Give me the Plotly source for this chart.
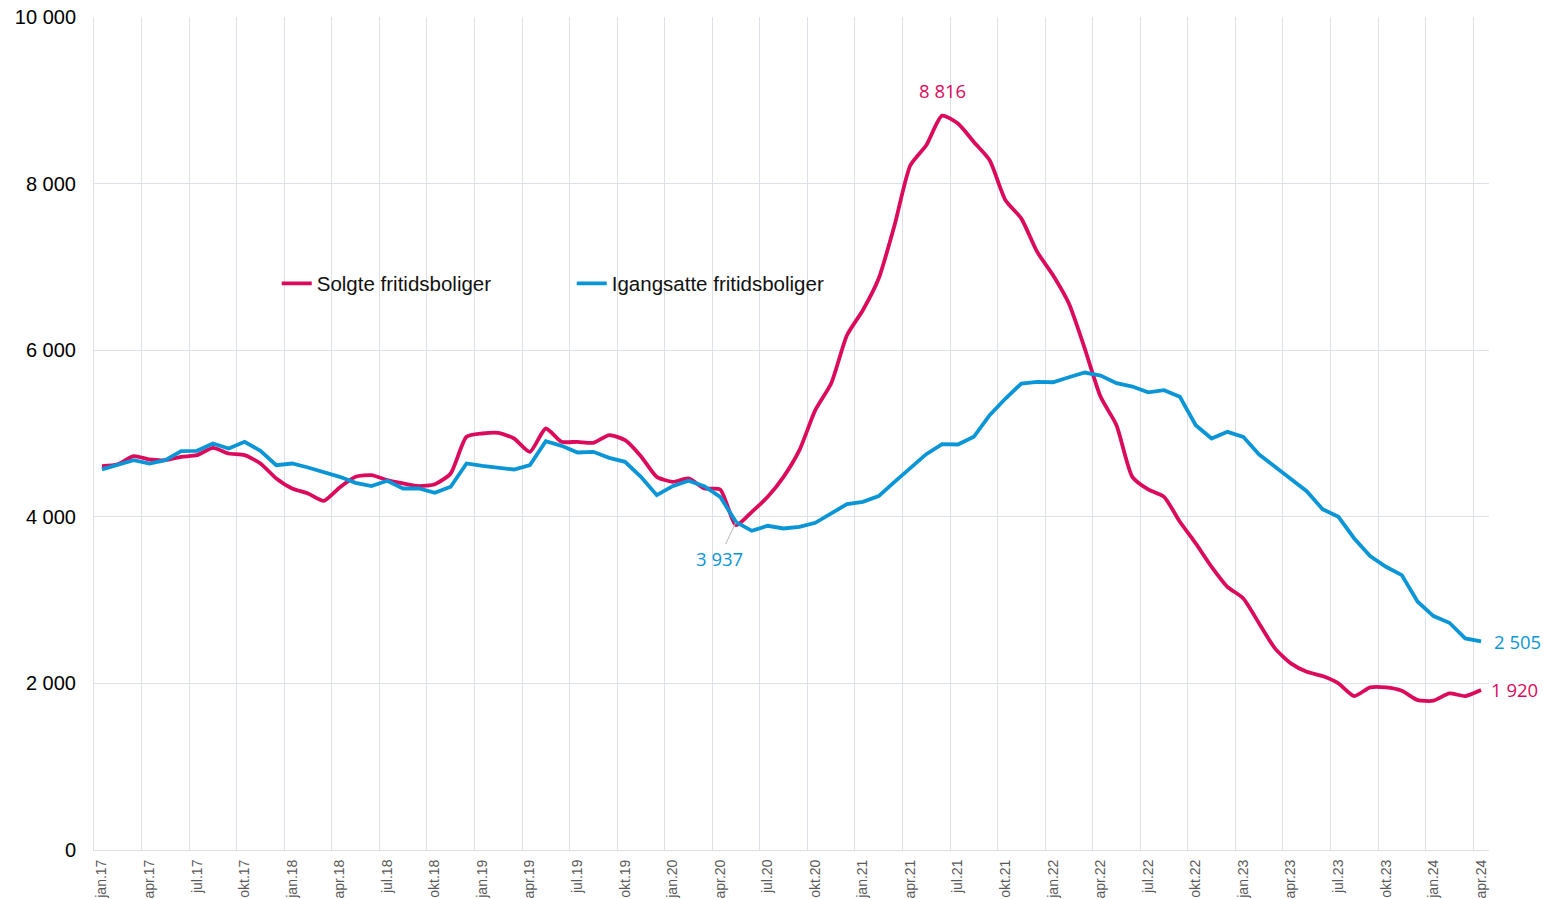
import plotly.graph_objects as go

months = ["jan", "feb", "mar", "apr", "mai", "jun", "jul", "aug", "sep", "okt", "nov", "des"]
categories = [f"{m}.{y:02d}" for y in range(17, 25) for m in months][:88]

solgte = [4608, 4630, 4728, 4688, 4680, 4720, 4740, 4828, 4760, 4740, 4640, 4460,
          4340, 4280, 4192, 4352, 4480, 4500, 4440, 4400, 4368, 4390, 4520, 4960,
          5000, 5008, 4940, 4780, 5060, 4900, 4900, 4888, 4980, 4920, 4728, 4480,
          4420, 4460, 4340, 4328, 3900, 4060, 4240, 4480, 4800, 5280, 5600, 6180,
          6480, 6860, 7500, 8220, 8460, 8816, 8720, 8500, 8280, 7800, 7580, 7180,
          6900, 6560, 6020, 5440, 5100, 4480, 4328, 4240, 3940, 3680, 3400, 3160,
          3020, 2720, 2420, 2240, 2140, 2088, 2000, 1848, 1952, 1952, 1912, 1800,
          1792, 1880, 1848, 1920]

igangsatte = [4570, 4620, 4680, 4640, 4680, 4788, 4792, 4880, 4820, 4900, 4792, 4620,
              4640, 4592, 4540, 4480, 4408, 4368, 4432, 4340, 4340, 4288, 4360, 4640,
              4610, 4592, 4568, 4620, 4908, 4852, 4772, 4780, 4708, 4660, 4480, 4260,
              4368, 4432, 4368, 4240, 3937, 3832, 3892, 3860, 3880, 3928, 4040, 4152,
              4180, 4248, 4420, 4580, 4752, 4872, 4868, 4960, 5220, 5420, 5600, 5620,
              5615, 5675, 5732, 5695, 5604, 5564, 5494, 5520, 5440, 5100, 4940, 5020,
              4960, 4748, 4600, 4448, 4308, 4092, 4000, 3740, 3528, 3400, 3300, 2980,
              2808, 2728, 2540, 2505]

series_names = ["Solgte fritidsboliger", "Igangsatte fritidsboliger"]
RED = "#DB0A5B"
BLUE = "#0A96D6"
GRID = "#DCE1E8"

x = list(range(len(categories)))
tick_idx = list(range(0, len(categories), 3))

fig = go.Figure()
fig.add_trace(go.Scatter(x=x, y=solgte, name=series_names[0], mode="lines",
                         line=dict(color=RED, width=3.8, shape="spline", smoothing=0.6)))
fig.add_trace(go.Scatter(x=x, y=igangsatte, name=series_names[1], mode="lines",
                         line=dict(color=BLUE, width=3.8)))

ann_font = dict(family="Open Sans", size=18.5)
fig.add_annotation(x=53, y=solgte[53], text="8 816", showarrow=False, yanchor="bottom",
                   yshift=11, font=dict(color=RED, **ann_font))
fig.add_annotation(x=40, y=igangsatte[40], text="3 937", showarrow=True, arrowhead=0,
                   arrowwidth=1, arrowcolor="#B0B6BE", ax=-17, ay=36,
                   font=dict(color=BLUE, **ann_font))
fig.add_annotation(x=87, y=igangsatte[87], text="2 505", showarrow=False, xanchor="left",
                   xshift=11, font=dict(color=BLUE, **ann_font))
fig.add_annotation(x=87, y=solgte[87], text="1 920", showarrow=False, xanchor="left",
                   xshift=8, yshift=1, font=dict(color=RED, **ann_font))

fig.update_layout(
    width=1543, height=899,
    margin=dict(l=94, r=54, t=17, b=49, autoexpand=False),
    paper_bgcolor="white", plot_bgcolor="white",
    separators=", ",
    font=dict(family="Liberation Sans, Arial, sans-serif", color="#000000"),
    showlegend=True,
    legend=dict(orientation="h", x=0.131, y=0.68, xanchor="left", yanchor="middle",
                bgcolor="rgba(0,0,0,0)", font=dict(size=20.5, color="#111111"),
                entrywidth=250, entrywidthmode="pixels", itemwidth=30),
)
fig.update_xaxes(
    range=[-0.5, len(categories) - 0.5], automargin=False,
    tickmode="array", tickvals=tick_idx, ticktext=[categories[i] for i in tick_idx],
    tickangle=-90, tickfont=dict(size=14, color="#595959"),
    showgrid=False, zeroline=False,
    showline=True, linecolor=GRID, linewidth=1,
    ticks="", ticklabelstandoff=3,
    minor=dict(tickmode="linear", tick0=-0.5, dtick=3, showgrid=True,
               gridcolor=GRID, gridwidth=1, ticks=""),
)
fig.update_yaxes(
    range=[0, 10000], automargin=False,
    tickmode="array", tickvals=list(range(0, 10001, 2000)),
    tickformat=",d", tickfont=dict(size=20, color="#000000"),
    showgrid=True, gridcolor=GRID, gridwidth=1, zeroline=False,
    showline=True, linecolor=GRID, linewidth=1,
    ticks="", ticklabelstandoff=13,
)

fig.write_html("out.html", config={"displayModeBar": False},
               post_script="document.body.style.margin='0';document.body.style.overflow='hidden';")
